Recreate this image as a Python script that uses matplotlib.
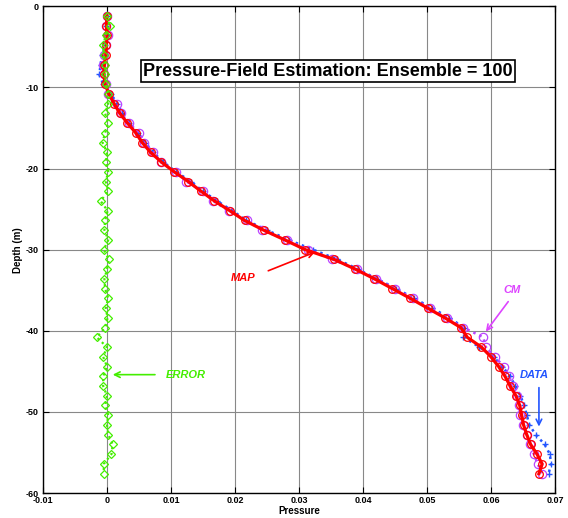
import numpy as np
import matplotlib
matplotlib.use("Agg")
import matplotlib.pyplot as plt

plt.rcParams['font.family'] = ['Liberation Sans', 'DejaVu Sans']
plt.rcParams['axes.unicode_minus'] = False

# depths (m) of the estimation points
depth = [-1.2, -2.4, -3.6, -4.8, -6.0, -7.2, -8.4, -9.6, -10.8, -12.0,
         -13.2, -14.4, -15.6, -16.8, -18.0, -19.2, -20.4, -21.6, -22.8, -24.0,
         -25.2, -26.4, -27.6, -28.8, -30.0, -31.2, -32.4, -33.6, -34.8, -36.0,
         -37.2, -38.4, -39.6, -40.8, -42.0, -43.2, -44.4, -45.6, -46.8, -48.0,
         -49.2, -50.4, -51.6, -52.8, -54.0, -55.2, -56.4, -57.6]

p_map = [0.0000, -0.0001, 0.0000, -0.0001, -0.0002, -0.0004, -0.0005, -0.0003, 0.0003, 0.0011,
         0.0020, 0.0032, 0.0045, 0.0055, 0.0068, 0.0085, 0.0105, 0.0127, 0.0147, 0.0168,
         0.0192, 0.0215, 0.0245, 0.0278, 0.0310, 0.0355, 0.0388, 0.0418, 0.0446, 0.0474,
         0.0501, 0.0528, 0.0553, 0.0563, 0.0585, 0.0600, 0.0612, 0.0622, 0.0630, 0.0639,
         0.0645, 0.0648, 0.0651, 0.0656, 0.0662, 0.0672, 0.0680, 0.0675]

p_data = [0.0000, -0.0002, 0.0001, -0.0003, -0.0008, -0.0010, -0.0012, -0.0006, 0.0006, 0.0016,
          0.0024, 0.0035, 0.0048, 0.0060, 0.0072, 0.0088, 0.0108, 0.0131, 0.0150, 0.0172,
          0.0196, 0.0218, 0.0250, 0.0284, 0.0322, 0.0360, 0.0392, 0.0422, 0.0452, 0.0480,
          0.0508, 0.0535, 0.0558, 0.0557, 0.0582, 0.0604, 0.0618, 0.0630, 0.0638, 0.0646,
          0.0652, 0.0656, 0.0660, 0.0670, 0.0684, 0.0692, 0.0694, 0.0690]

p_cm = [0.0000, -0.0001, 0.0001, -0.0002, -0.0004, -0.0006, -0.0004, -0.0002, 0.0002, 0.0015,
        0.0022, 0.0034, 0.0050, 0.0058, 0.0072, 0.0084, 0.0108, 0.0124, 0.0150, 0.0166,
        0.0190, 0.0219, 0.0242, 0.0282, 0.0314, 0.0352, 0.0390, 0.0421, 0.0450, 0.0478,
        0.0504, 0.0531, 0.0557, 0.0588, 0.0592, 0.0606, 0.0620, 0.0628, 0.0634, 0.0641,
        0.0644, 0.0646, 0.0650, 0.0656, 0.0661, 0.0667, 0.0673, 0.0680]

p_err = [0.0000, 0.0004, -0.0002, -0.0006, -0.0005, -0.0003, -0.0003, -0.0002, 0.0002, 0.0002,
         -0.0003, 0.0002, -0.0003, -0.0007, 0.0000, -0.0002, 0.0002, -0.0002, 0.0002, -0.0010,
         0.0001, -0.0003, -0.0004, 0.0002, -0.0005, 0.0003, 0.0000, -0.0004, -0.0003, 0.0002,
         -0.0002, 0.0001, -0.0003, -0.0016, 0.0000, -0.0006, 0.0000, -0.0006, -0.0006, 0.0000,
         -0.0003, 0.0002, 0.0000, 0.0002, 0.0009, 0.0007, -0.0005, -0.0005]

xticks = [-0.01, 0, 0.01, 0.02, 0.03, 0.04, 0.05, 0.06, 0.07]
xticklabels = ['-0.01', '0', '0.01', '0.02', '0.03', '0.04', '0.05', '0.06', '0.07']
yticks = [0, -10, -20, -30, -40, -50, -60]

fig = plt.figure(figsize=(5.68, 5.18), dpi=100)
ax = fig.add_axes([0.0757, 0.048, 0.9013, 0.940])

# curves
ax.plot(p_data, depth, color='#2255ff', linestyle=':', linewidth=1.8,
        marker='+', markersize=5, markeredgewidth=1.0, zorder=3)
ax.plot(p_cm, depth, color='#bb44ff', linestyle=':', linewidth=1.8,
        marker='o', markersize=6, markerfacecolor='none', markeredgewidth=0.9, zorder=3)
ax.plot(p_map, depth, color='#ff0000', linestyle='-', linewidth=2.3,
        marker='o', markersize=5.5, markerfacecolor='none', markeredgewidth=0.9, zorder=4)
ax.plot(p_err, depth, color='#44ee00', linestyle=':', linewidth=1.6,
        marker='D', markersize=3.6, markerfacecolor='none', markeredgewidth=0.9, zorder=4)

ax.set_xlim(-0.01, 0.07)
ax.set_ylim(-60, 0)
ax.set_xticks(xticks)
ax.set_xticklabels(xticklabels)
ax.set_yticks(yticks)
ax.tick_params(direction='in', length=4, labelsize=6.5, width=0.8, right=True, top=True, pad=2)
ax.tick_params(axis='y', pad=3)
for lab in ax.get_xticklabels() + ax.get_yticklabels():
    lab.set_fontweight('bold')
ax.grid(True, color='#888888', linewidth=0.8, linestyle='-')
ax.set_axisbelow(True)
for sp in ax.spines.values():
    sp.set_linewidth(1.0)

ax.set_xlabel('Pressure', fontsize=7, fontweight='bold', labelpad=1)
ax.set_ylabel('Depth (m)', fontsize=7, fontweight='bold', labelpad=2)

ax.text(0.0345, -8.0, 'Pressure-Field Estimation: Ensemble = 100', fontsize=13,
        fontweight='bold', ha='center', va='center', zorder=6,
        bbox=dict(boxstyle='square,pad=0.12', facecolor='white', edgecolor='black', linewidth=1.2))

# annotations
arrow = dict(arrowstyle='->', linewidth=1.2, shrinkA=0, shrinkB=0)
ax.annotate('', xy=(0.0325, -30.3), xytext=(0.0252, -32.6),
            arrowprops=dict(arrow, color='#ff0000'), zorder=6)
ax.text(0.0213, -33.5, 'MAP', color='#ff0000', fontsize=8, fontweight='bold',
        fontstyle='italic', ha='center', va='center')
ax.annotate('', xy=(0.0592, -40.1), xytext=(0.0627, -36.4),
            arrowprops=dict(arrow, color='#dd44ff'), zorder=6)
ax.text(0.0633, -35.0, 'CM', color='#dd44ff', fontsize=8, fontweight='bold',
        fontstyle='italic', ha='center', va='center')
ax.annotate('', xy=(0.0675, -51.8), xytext=(0.0675, -47.0),
            arrowprops=dict(arrow, color='#2255ff'), zorder=6)
ax.text(0.0667, -45.4, 'DATA', color='#2255ff', fontsize=8, fontweight='bold',
        fontstyle='italic', ha='center', va='center')
ax.annotate('', xy=(0.0009, -45.4), xytext=(0.0075, -45.4),
            arrowprops=dict(arrow, color='#44ee00'), zorder=6)
ax.text(0.0123, -45.5, 'ERROR', color='#44ee00', fontsize=8, fontweight='bold',
        fontstyle='italic', ha='center', va='center')

fig.savefig('out.png', dpi=100)
